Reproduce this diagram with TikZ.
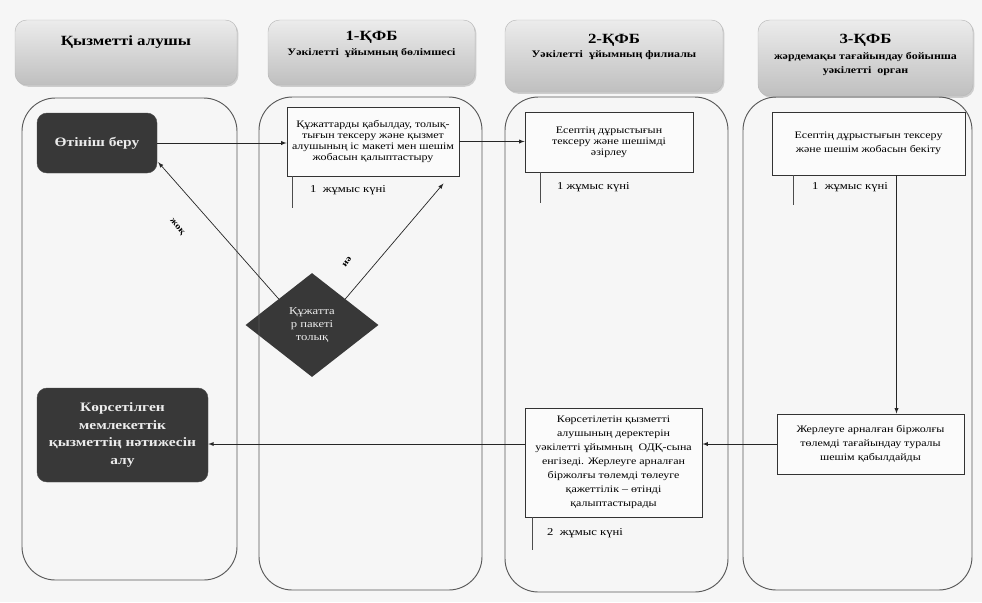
\documentclass[tikz,border=0pt]{standalone}
\usepackage{fontspec}
\setmainfont{Liberation Serif}[FakeStretch=1.2]
\usetikzlibrary{shapes.geometric,shadows,calc}
\newdimen\pxu \pxu=0.03cm
\tikzset{
  lane/.style={draw=black!65, line width=0.8pt, rounded corners=1cm},
  head/.style={rounded corners=0.35cm, draw=gray!55, top color=gray!15, bottom color=gray!50,
    drop shadow={shadow xshift=1.2pt, shadow yshift=-1.5pt, fill=gray!70}},
  headtxt/.style={font=\fontsize{12}{14}\selectfont\bfseries, align=center},
  subtxt/.style={font=\fontsize{8.5}{12}\selectfont\bfseries, align=center},
  darkbox/.style={rounded corners=0.3cm, fill=black!78, draw=black!70, text=gray!15,
    font=\fontsize{11}{15}\selectfont\bfseries, align=center},
  stepbox/.style={draw=black!80, line width=0.8pt, fill=gray!3,
    font=\fontsize{8.5}{12}\selectfont, align=center, inner sep=2pt},
  decision/.style={diamond, fill=black!78, text=gray!15,
    font=\fontsize{9}{11}\selectfont, align=center, inner sep=0pt},
  daylbl/.style={font=\fontsize{9}{11}\selectfont, anchor=west},
  bar/.style={draw=black!70, line width=0.9pt},
  arr/.style={->, >=latex, black!85, line width=0.6pt},
  branch/.style={font=\fontsize{7.5}{9}\selectfont\bfseries}
}
\begin{document}
\begin{tikzpicture}[x=0.03cm, y=-0.03cm]
  \fill[gray!7] (0,0) rectangle (982,602);
  \useasboundingbox (0,0) rectangle (982,602);

  \node[head, minimum width=222\pxu, minimum height=65\pxu] (h1) at (126,52.5) {};
  \node[head, minimum width=207\pxu, minimum height=65\pxu] (h2) at (371.5,52.5) {};
  \node[head, minimum width=218\pxu, minimum height=72\pxu] (h3) at (614,56) {};
  \node[head, minimum width=215\pxu, minimum height=76\pxu] (h4) at (865.5,58) {};
  \node[headtxt] (h1t) at (126,42) {Қызметті алушы};
  \node[headtxt] (h2t) at (371.5,37) {1-ҚФБ};
  \node[subtxt] (h2s) at (371.5,53) {Уәкілетті~ ұйымның бөлімшесі};
  \node[headtxt] (h3t) at (614,40) {2-ҚФБ};
  \node[subtxt] (h3s) at (614,55) {Уәкілетті~ ұйымның филиалы};
  \node[headtxt] (h4t) at (865.5,40) {3-ҚФБ};
  \node[subtxt] (h4s) at (865.5,64) {жәрдемақы тағайындау бойынша\\уәкілетті~ орган};

  \node[darkbox, minimum width=120\pxu, minimum height=60\pxu] (apply) at (97,143) {Өтініш беру};
  \node[darkbox, minimum width=171\pxu, minimum height=94\pxu] (result) at (122.5,435)
    {Көрсетілген\\мемлекеттік\\қызметтің нәтижесін\\алу};
  \node[decision, minimum width=133\pxu, minimum height=104\pxu] (check) at (312,325)
    {Құжатта\\р пакеті\\толық};
  \node[stepbox, minimum width=172\pxu, minimum height=69\pxu, font=\fontsize{8.5}{9.5}\selectfont] (accept) at (373,141.5)
    {Құжаттарды қабылдау, толық-\\тығын тексеру және қызмет\\алушының іс макеті мен шешім\\жобасын қалыптастыру};
  \node[stepbox, minimum width=168\pxu, minimum height=60\pxu, font=\fontsize{8.5}{9.5}\selectfont] (verify) at (609,142)
    {Есептің дұрыстығын\\тексеру және шешімді\\әзірлеу};
  \node[stepbox, minimum width=193\pxu, minimum height=63\pxu] (approve) at (868.5,143.5)
    {Есептің дұрыстығын тексеру\\және шешім жобасын бекіту};
  \node[stepbox, minimum width=187\pxu, minimum height=60\pxu] (decide) at (870.5,444)
    {Жерлеуге арналған біржолғы\\төлемді тағайындау туралы\\шешім қабылдайды};
  \node[stepbox, minimum width=177\pxu, minimum height=109\pxu] (enter) at (613.5,462.5)
    {Көрсетілетін қызметті\\алушының деректерін\\уәкілетті ұйымның~ ОДҚ-сына\\енгізеді. Жерлеуге арналған\\біржолғы төлемді төлеуге\\қажеттілік – өтінді\\қалыптастырады};

  \draw[lane] (22,98) rectangle (237,580);
  \draw[lane] (259,97) rectangle (482,590);
  \draw[lane] (505,97) rectangle (728,592);
  \draw[lane] (743,97) rectangle (972,590);

  \draw[bar] ($(accept.south west)+(6,0)$) -- +(0,32);
  \node[daylbl] (d1) at (306,190) {1~ жұмыс күні};
  \draw[bar] ($(verify.south west)+(16,0)$) -- +(0,31);
  \node[daylbl] (d2) at (553,187) {1 жұмыс күні};
  \draw[bar] ($(approve.south west)+(22,0)$) -- +(0,30);
  \node[daylbl] (d3) at (808,187) {1~ жұмыс күні};
  \draw[bar] ($(enter.south west)+(8,0)$) -- +(0,33);
  \node[daylbl] (d4) at (543,533) {2~ жұмыс күні};

  \begin{scope}[arr]
    \draw (apply) -- (apply -| accept.west);
    \draw (accept) -- (accept -| verify.west);
    \draw (check.north east) -- ($(accept.south east)+(-16,7)$);
    \draw (check.north west) -- ($(apply.south east)+(1,-11)$);
    \coordinate (down) at ($(approve.south)+(28,0)$);
    \draw (down) -- (down |- decide.north);
    \draw (decide) -- (decide -| enter.east);
    \draw (enter.west |- decide) -- (decide -| result.east);
  \end{scope}
  \node[branch, rotate=-50] (no) at (177,227) {жоқ};
  \node[branch, rotate=55] (yes) at (347,262) {иә};
\end{tikzpicture}
\end{document}
